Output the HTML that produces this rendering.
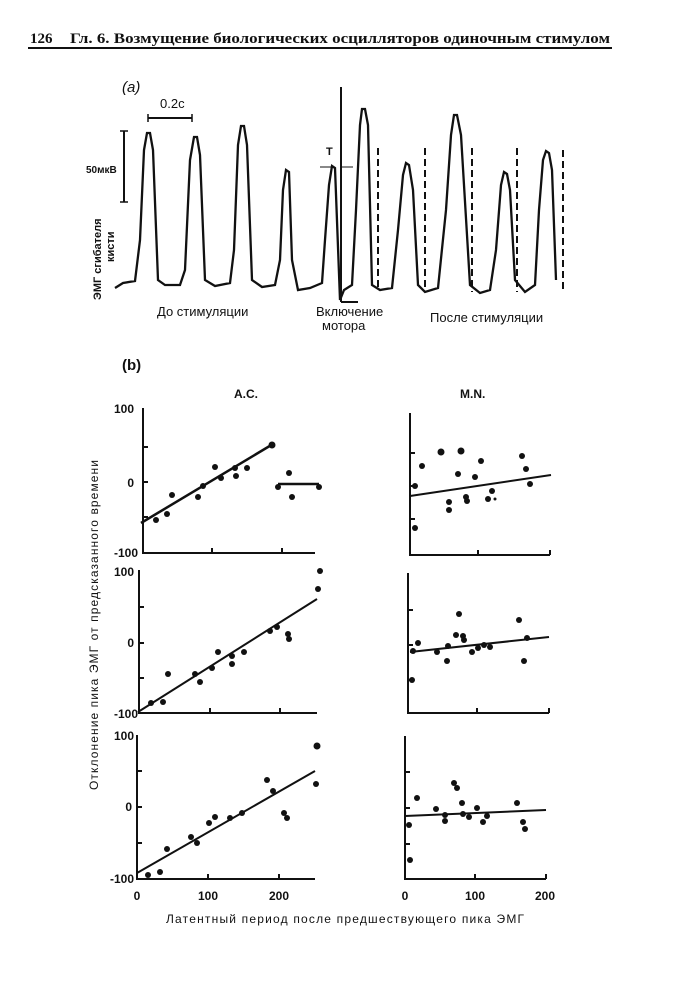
<!DOCTYPE html>
<html><head><meta charset="utf-8"><style>
body{margin:0;background:#fff}
svg{display:block}
text{font-family:"Liberation Sans","DejaVu Sans",sans-serif;fill:#111}
</style></head><body>
<svg width="676" height="1000" viewBox="0 0 676 1000" xmlns="http://www.w3.org/2000/svg">
<line x1="28" y1="48" x2="612" y2="48" stroke="#111" stroke-width="2"/>
<text x="30" y="43" font-size="15" font-weight="bold" style="font-family:'Liberation Serif',serif">126</text>
<text x="70" y="43" font-size="15" font-weight="bold" style="font-family:'Liberation Serif',serif" textLength="540" lengthAdjust="spacingAndGlyphs">Гл. 6. Возмущение биологических осцилляторов одиночным стимулом</text>

<!-- panel a -->
<text x="122" y="92" font-size="15" font-style="italic">(a)</text>
<text x="160" y="108" font-size="13">0.2c</text>
<line x1="148" y1="118" x2="192" y2="118" stroke="#111" stroke-width="2"/>
<line x1="148" y1="114" x2="148" y2="122" stroke="#111" stroke-width="1.5"/>
<line x1="192" y1="114" x2="192" y2="122" stroke="#111" stroke-width="1.5"/>
<line x1="124" y1="131" x2="124" y2="202" stroke="#111" stroke-width="2"/>
<line x1="120" y1="131" x2="128" y2="131" stroke="#111" stroke-width="1.5"/>
<line x1="120" y1="202" x2="128" y2="202" stroke="#111" stroke-width="1.5"/>
<text x="86" y="173" font-size="10" font-weight="bold">50мкВ</text>
<text transform="translate(101,300) rotate(-90)" font-size="11" font-weight="bold">ЭМГ сгибателя</text>
<text transform="translate(114,262) rotate(-90)" font-size="11" font-weight="bold">кисти</text>
<polyline fill="none" stroke="#111" stroke-width="2.3" points="115,288 123,283 135,281 140,240 144,150 147,133 150,133 153,150 158,280 165,285 180,285 185,270 190,160 194,137 197,137 200,155 205,280 215,286 230,283 234,250 238,145 241,126 244,126 247,145 252,280 262,287 275,285 280,260 283,190 286,170 289,172 292,260 298,290 310,288 322,283 325,240 329,185 332,166 335,168 340,300 344,290 352,285 356,210 360,125 362,109 365,109 368,125 372,285 380,290 392,288 398,230 403,175 406,163 409,165 413,190 418,285 425,292 438,288 446,210 451,135 454,115 457,115 461,135 470,285 480,293 490,290 496,250 501,185 504,172 507,174 510,190 515,280 525,292 535,285 539,210 543,160 546,151 549,153 552,170 556,280"/>
<line x1="341" y1="87" x2="341" y2="302" stroke="#111" stroke-width="2"/>
<line x1="341" y1="302" x2="358" y2="302" stroke="#111" stroke-width="2"/>
<g stroke="#111" stroke-width="2" stroke-dasharray="7,4">
<line x1="378" y1="148" x2="378" y2="290"/><line x1="425" y1="148" x2="425" y2="292"/><line x1="472" y1="148" x2="472" y2="292"/><line x1="517" y1="148" x2="517" y2="292"/><line x1="563" y1="150" x2="563" y2="292"/>
</g>
<text x="326" y="155" font-size="11" font-weight="bold">T</text>
<line x1="320" y1="167" x2="333" y2="167" stroke="#111" stroke-width="1"/>
<line x1="341" y1="167" x2="353" y2="167" stroke="#111" stroke-width="1"/>
<text x="157" y="316" font-size="13">До стимуляции</text>
<text x="316" y="316" font-size="13">Включение</text>
<text x="322" y="330" font-size="13">мотора</text>
<text x="430" y="322" font-size="13">После стимуляции</text>

<!-- panel b -->
<text x="122" y="370" font-size="15" font-weight="bold">(b)</text>
<text x="234" y="398" font-size="12" font-weight="bold">A.C.</text>
<text x="460" y="398" font-size="12" font-weight="bold">M.N.</text>
<text transform="translate(98,790) rotate(-90)" font-size="12" textLength="330" lengthAdjust="spacing">Отклонение  пика  ЭМГ от  предсказанного времени</text>
<text x="166" y="923" font-size="12" textLength="358" lengthAdjust="spacing">Латентный  период  после  предшествующего пика  ЭМГ</text>

<g stroke="#111" stroke-width="2" fill="none">
<polyline points="143,408 143,553 315,553"/>
<line x1="143" y1="447" x2="148" y2="447"/><line x1="143" y1="482" x2="148" y2="482"/><line x1="143" y1="517" x2="148" y2="517"/>
<line x1="212" y1="553" x2="212" y2="548"/><line x1="282" y1="553" x2="282" y2="548"/>
<line x1="141" y1="523" x2="273" y2="444" stroke-width="2.5"/>
<line x1="278" y1="484" x2="319" y2="484" stroke-width="2.5"/>
<polyline points="410,413 410,555 550,555"/>
<line x1="410" y1="453" x2="415" y2="453"/><line x1="410" y1="486" x2="415" y2="486"/><line x1="410" y1="519" x2="415" y2="519"/>
<line x1="478" y1="555" x2="478" y2="550"/><line x1="550" y1="555" x2="550" y2="550"/>
<line x1="410" y1="496" x2="551" y2="475"/>
<polyline points="139,570 139,713 317,713"/>
<line x1="139" y1="607" x2="144" y2="607"/><line x1="139" y1="643" x2="144" y2="643"/><line x1="139" y1="678" x2="144" y2="678"/>
<line x1="210" y1="713" x2="210" y2="708"/><line x1="280" y1="713" x2="280" y2="708"/>
<line x1="138" y1="712" x2="317" y2="599"/>
<polyline points="408,573 408,713 549,713"/>
<line x1="408" y1="610" x2="413" y2="610"/><line x1="408" y1="645" x2="413" y2="645"/><line x1="408" y1="680" x2="413" y2="680"/>
<line x1="477" y1="713" x2="477" y2="708"/><line x1="549" y1="713" x2="549" y2="708"/>
<line x1="410" y1="652" x2="549" y2="637"/>
<polyline points="137,735 137,879 315,879"/>
<line x1="137" y1="771" x2="142" y2="771"/><line x1="137" y1="807" x2="142" y2="807"/><line x1="137" y1="843" x2="142" y2="843"/>
<line x1="208" y1="879" x2="208" y2="874"/><line x1="279" y1="879" x2="279" y2="874"/>
<line x1="137" y1="873" x2="315" y2="771"/>
<polyline points="405,736 405,879 546,879"/>
<line x1="405" y1="772" x2="410" y2="772"/><line x1="405" y1="808" x2="410" y2="808"/><line x1="405" y1="844" x2="410" y2="844"/>
<line x1="475" y1="879" x2="475" y2="874"/><line x1="546" y1="879" x2="546" y2="874"/>
<line x1="405" y1="816" x2="546" y2="810"/>
</g>

<g fill="#111" font-size="12" font-weight="bold" text-anchor="end">
<text x="134" y="413">100</text><text x="134" y="487">0</text><text x="138" y="557">-100</text>
<text x="134" y="576">100</text><text x="134" y="647">0</text><text x="138" y="718">-100</text>
<text x="134" y="740">100</text><text x="132" y="811">0</text><text x="134" y="883">-100</text>
</g>
<g fill="#111" font-size="12" font-weight="bold" text-anchor="middle">
<text x="137" y="900">0</text><text x="208" y="900">100</text><text x="279" y="900">200</text>
<text x="405" y="900">0</text><text x="475" y="900">100</text><text x="545" y="900">200</text>
</g>

<g fill="#111">
<circle cx="156" cy="520" r="3"/><circle cx="167" cy="514" r="3"/><circle cx="172" cy="495" r="3"/><circle cx="198" cy="497" r="3"/><circle cx="203" cy="486" r="3"/><circle cx="215" cy="467" r="3"/><circle cx="221" cy="478" r="3"/><circle cx="235" cy="468" r="3"/><circle cx="236" cy="476" r="3"/><circle cx="247" cy="468" r="3"/><circle cx="272" cy="445" r="3.5"/>
<circle cx="278" cy="487" r="3"/><circle cx="289" cy="473" r="3"/><circle cx="292" cy="497" r="3"/><circle cx="319" cy="487" r="3"/>
<circle cx="415" cy="486" r="3"/><circle cx="422" cy="466" r="3"/><circle cx="415" cy="528" r="3"/><circle cx="441" cy="452" r="3.5"/><circle cx="461" cy="451" r="3.5"/><circle cx="458" cy="474" r="3"/><circle cx="449" cy="502" r="3"/><circle cx="449" cy="510" r="3"/><circle cx="466" cy="497" r="3"/><circle cx="467" cy="501" r="3"/><circle cx="475" cy="477" r="3"/><circle cx="481" cy="461" r="3"/><circle cx="488" cy="499" r="3"/><circle cx="492" cy="491" r="3"/><circle cx="495" cy="499" r="1.5"/><circle cx="522" cy="456" r="3"/><circle cx="526" cy="469" r="3"/><circle cx="530" cy="484" r="3"/>
<circle cx="151" cy="703" r="3"/><circle cx="163" cy="702" r="3"/><circle cx="168" cy="674" r="3"/><circle cx="195" cy="674" r="3"/><circle cx="200" cy="682" r="3"/><circle cx="212" cy="668" r="3"/><circle cx="218" cy="652" r="3"/><circle cx="232" cy="656" r="3"/><circle cx="232" cy="664" r="3"/><circle cx="244" cy="652" r="3"/><circle cx="270" cy="631" r="3"/><circle cx="277" cy="627" r="3"/><circle cx="288" cy="634" r="3"/><circle cx="289" cy="639" r="3"/><circle cx="318" cy="589" r="3"/><circle cx="320" cy="571" r="3"/>
<circle cx="412" cy="680" r="3"/><circle cx="413" cy="651" r="3"/><circle cx="418" cy="643" r="3"/><circle cx="437" cy="652" r="3"/><circle cx="447" cy="661" r="3"/><circle cx="448" cy="646" r="3"/><circle cx="456" cy="635" r="3"/><circle cx="459" cy="614" r="3"/><circle cx="463" cy="636" r="3"/><circle cx="464" cy="640" r="3"/><circle cx="472" cy="652" r="3"/><circle cx="478" cy="648" r="3"/><circle cx="484" cy="645" r="3"/><circle cx="490" cy="647" r="3"/><circle cx="519" cy="620" r="3"/><circle cx="524" cy="661" r="3"/><circle cx="527" cy="638" r="3"/>
<circle cx="148" cy="875" r="3"/><circle cx="160" cy="872" r="3"/><circle cx="167" cy="849" r="3"/><circle cx="191" cy="837" r="3"/><circle cx="197" cy="843" r="3"/><circle cx="209" cy="823" r="3"/><circle cx="215" cy="817" r="3"/><circle cx="230" cy="818" r="3"/><circle cx="242" cy="813" r="3"/><circle cx="267" cy="780" r="3"/><circle cx="273" cy="791" r="3"/><circle cx="284" cy="813" r="3"/><circle cx="287" cy="818" r="3"/><circle cx="316" cy="784" r="3"/><circle cx="317" cy="746" r="3.5"/>
<circle cx="409" cy="825" r="3"/><circle cx="410" cy="860" r="3"/><circle cx="417" cy="798" r="3"/><circle cx="436" cy="809" r="3"/><circle cx="445" cy="815" r="3"/><circle cx="445" cy="821" r="3"/><circle cx="454" cy="783" r="3"/><circle cx="457" cy="788" r="3"/><circle cx="462" cy="803" r="3"/><circle cx="463" cy="814" r="3"/><circle cx="469" cy="817" r="3"/><circle cx="477" cy="808" r="3"/><circle cx="483" cy="822" r="3"/><circle cx="487" cy="816" r="3"/><circle cx="517" cy="803" r="3"/><circle cx="523" cy="822" r="3"/><circle cx="525" cy="829" r="3"/>
</g>
</svg>
</body></html>
